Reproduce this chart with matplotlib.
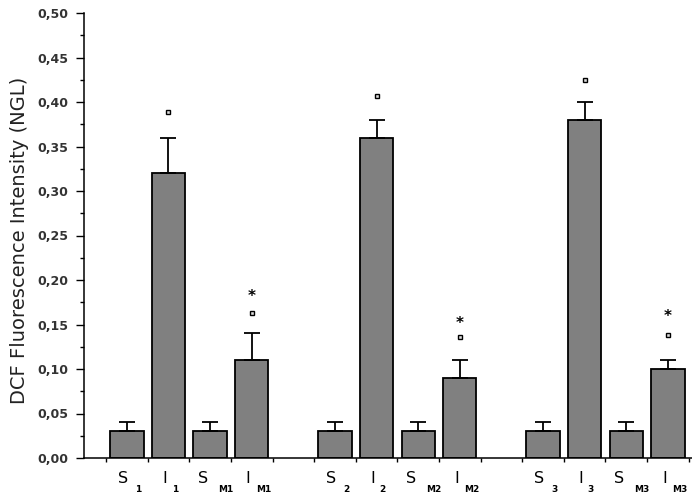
import matplotlib
matplotlib.use("Agg")
import matplotlib.pyplot as plt
from matplotlib.ticker import MultipleLocator, FixedLocator

# ---- data ----
main_letters = ["S", "I", "S", "I", "S", "I", "S", "I", "S", "I", "S", "I"]
sub_labels = ["1", "1", "M1", "M1", "2", "2", "M2", "M2", "3", "3", "M3", "M3"]
positions = [0.5, 1.5, 2.5, 3.5, 5.5, 6.5, 7.5, 8.5, 10.5, 11.5, 12.5, 13.5]
values = [0.03, 0.32, 0.03, 0.11, 0.03, 0.36, 0.03, 0.09, 0.03, 0.38, 0.03, 0.10]
errors = [0.01, 0.04, 0.01, 0.03, 0.01, 0.02, 0.01, 0.02, 0.01, 0.02, 0.01, 0.01]
# significance markers (square = vs S, star = vs I)
square_pos = [1.5, 3.5, 6.5, 8.5, 11.5, 13.5]
square_y = [0.389, 0.163, 0.407, 0.136, 0.425, 0.138]
star_pos = [3.5, 8.5, 13.5]
star_y = [0.181, 0.151, 0.159]
yticks = [0.00, 0.05, 0.10, 0.15, 0.20, 0.25, 0.30, 0.35, 0.40, 0.45, 0.50]
ytick_labels = ["0,00", "0,05", "0,10", "0,15", "0,20", "0,25", "0,30",
                "0,35", "0,40", "0,45", "0,50"]

fig = plt.figure(figsize=(6.92, 4.97), dpi=100)
ax = fig.add_axes([84 / 692, 39 / 497, 1 - 84 / 692, (458 - 13) / 497])

ax.bar(positions, values, width=0.8, color="#808080", edgecolor="black",
       linewidth=1.3, zorder=2)
ax.errorbar(positions, values, yerr=[[0] * len(errors), errors], fmt="none",
            ecolor="black", elinewidth=1.3, capsize=6.1, capthick=1.3, zorder=3)

ax.plot(square_pos, square_y, ls="none", marker="s", markersize=3.2,
        markerfacecolor="#dddddd", markeredgecolor="black", markeredgewidth=1.0,
        zorder=4)
for x, y in zip(star_pos, star_y):
    ax.text(x, y, "*", ha="center", va="center", fontsize=11, fontweight="bold",
            fontfamily="DejaVu Sans", zorder=4)

ax.set_xlim(-0.53, 14.08)
ax.set_ylim(0, 0.5)

for s in ["top", "right"]:
    ax.spines[s].set_visible(False)
for s in ["left", "bottom"]:
    ax.spines[s].set_linewidth(1.1)

ax.set_yticks(yticks)
ax.set_yticklabels(ytick_labels, fontsize=9, fontweight="bold",
                   fontfamily="DejaVu Sans", color="#333333")
ax.yaxis.set_minor_locator(MultipleLocator(0.025))
ax.tick_params(axis="y", which="major", direction="out", length=6, width=1.0, pad=5.5)
ax.tick_params(axis="y", which="minor", direction="out", length=3, width=1.0)

ax.xaxis.set_major_locator(FixedLocator(list(range(0, 15))))
ax.set_xticklabels([])
ax.tick_params(axis="x", which="major", direction="out", length=3, width=1.0)

offsets = {"S": (-3, 8), "I": (-2.5, 4.5)}
for p, m, sub in zip(positions, main_letters, sub_labels):
    mo, so = offsets[m]
    if sub.startswith("M"):
        so = so + 3 if m == "S" else so + 4
        mo = mo - 2 if m == "S" else mo
    ax.annotate(m, xy=(p, 0), xycoords=("data", "axes fraction"),
                xytext=(mo, -14.5), textcoords="offset points",
                ha="center", va="center", fontsize=11.5, fontfamily="DejaVu Sans",
                annotation_clip=False)
    ax.annotate(sub, xy=(p, 0), xycoords=("data", "axes fraction"),
                xytext=(so, -22.5), textcoords="offset points",
                ha="center", va="center", fontsize=6.5, fontweight="bold",
                fontfamily="DejaVu Sans", annotation_clip=False)

fig.text(20 / 692, 1 - 240 / 497, "DCF Fluorescence Intensity (NGL)",
         rotation=90, ha="center", va="center", fontsize=14,
         fontfamily="DejaVu Sans", color="#222222")

fig.savefig("out.png", dpi=100)
